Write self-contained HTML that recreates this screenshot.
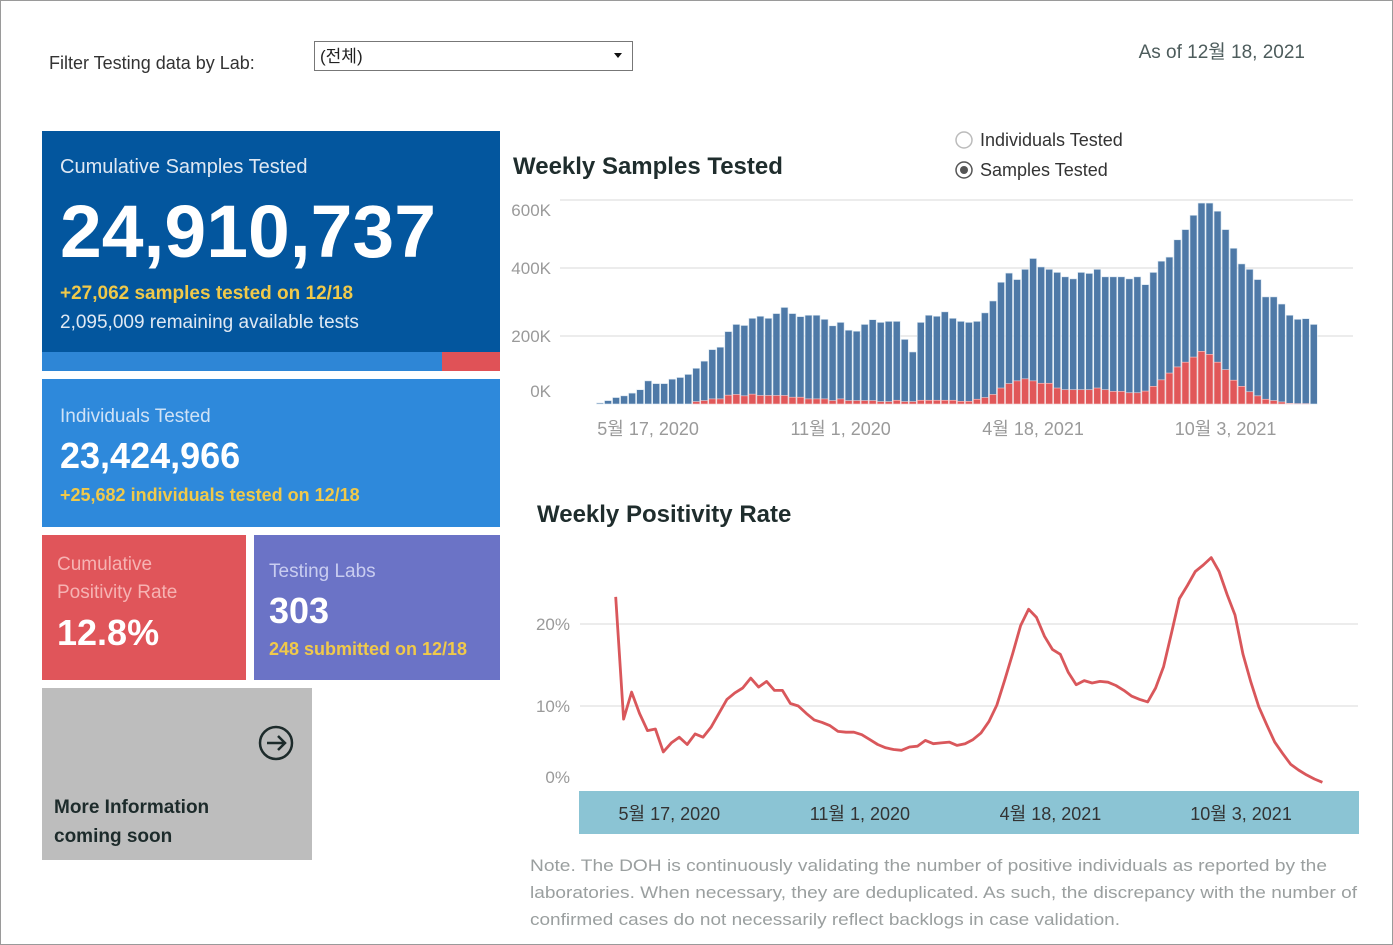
<!DOCTYPE html>
<html><head><meta charset="utf-8">
<style>
html,body{margin:0;padding:0;background:#fff;}
body{width:1393px;height:945px;overflow:hidden;position:relative;font-family:"Liberation Sans","Noto Sans CJK KR",sans-serif;}
#frame{position:absolute;left:0;top:0;width:1391px;height:943px;border:1px solid #9a9a9a;}
svg{position:absolute;left:0;top:0;}
text{font-family:"Liberation Sans","Noto Sans CJK KR",sans-serif;}
</style></head>
<body>
<div id="frame"></div>
<svg id="main" width="1393" height="945" viewBox="0 0 1393 945">
  <!-- header -->
  <text x="49" y="69" font-size="18" fill="#333">Filter Testing data by Lab:</text>
  <g>
    <rect x="314.5" y="41.5" width="318" height="29" fill="#fff" stroke="#777"/>
    <text x="320" y="62" font-size="17" fill="#222">(전체)</text>
    <path d="M614 53 L622 53 L618 58 Z" fill="#111"/>
  </g>
  <text x="1305" y="58" font-size="19" fill="#4d5c5c" text-anchor="end">As of 12월 18, 2021</text>

  <!-- KPI: cumulative samples -->
  <g>
    <rect x="42" y="131" width="458" height="221" fill="#03569e"/>
    <text x="60" y="173" font-size="20" fill="#dfe8f3">Cumulative Samples Tested</text>
    <text x="60" y="257" font-size="74" font-weight="bold" fill="#fff" textLength="376" lengthAdjust="spacingAndGlyphs">24,910,737</text>
    <text x="60" y="299" font-size="19" font-weight="bold" fill="#f0c94a">+27,062 samples tested on 12/18</text>
    <text x="60" y="328" font-size="19" fill="#dfe8f3">2,095,009 remaining available tests</text>
  </g>
  <g>
    <rect x="42" y="352" width="400" height="19" fill="#2e86d6"/>
    <rect x="442" y="352" width="58" height="19" fill="#e05257"/>
  </g>
  <g>
    <rect x="42" y="379" width="458" height="148" fill="#2e89db"/>
    <text x="60" y="422" font-size="19" fill="#cfe2f6">Individuals Tested</text>
    <text x="60" y="468" font-size="36" font-weight="bold" fill="#fff">23,424,966</text>
    <text x="60" y="501" font-size="18" font-weight="bold" fill="#f0c94a">+25,682  individuals  tested on 12/18</text>
  </g>
  <g>
    <rect x="42" y="535" width="204" height="145" fill="#e0555a"/>
    <text x="57" y="570" font-size="19" fill="#f6b3b3">Cumulative</text>
    <text x="57" y="598" font-size="19" fill="#f6b3b3">Positivity Rate</text>
    <text x="57" y="645" font-size="36" font-weight="bold" fill="#fff">12.8%</text>
  </g>
  <g>
    <rect x="254" y="535" width="246" height="145" fill="#6b73c6"/>
    <text x="269" y="577" font-size="19" fill="#c9cdf0">Testing Labs</text>
    <text x="269" y="623" font-size="36" font-weight="bold" fill="#fff">303</text>
    <text x="269" y="655" font-size="18" font-weight="bold" fill="#f0c94a">248 submitted on 12/18</text>
  </g>
  <g>
    <rect x="42" y="688" width="270" height="172" fill="#bdbdbd"/>
    <circle cx="276" cy="743" r="16" fill="none" stroke="#1d2b2b" stroke-width="2.5"/>
    <path d="M267 743 L284 743 M278 736 L285 743 L278 750" fill="none" stroke="#1d2b2b" stroke-width="2.5"/>
    <text x="54" y="813" font-size="19" font-weight="bold" fill="#1d2b2b">More Information</text>
    <text x="54" y="842" font-size="19" font-weight="bold" fill="#1d2b2b">coming soon</text>
  </g>

  <!-- bar chart -->
  <text x="513" y="174" font-size="24" font-weight="bold" fill="#1f2d2d">Weekly Samples Tested</text>
  <g>
    <circle cx="964" cy="140" r="8" fill="#fff" stroke="#bbb" stroke-width="1.5"/>
    <text x="980" y="146" font-size="18" fill="#333">Individuals Tested</text>
  </g>
  <g>
    <circle cx="964" cy="170" r="8" fill="#fff" stroke="#555" stroke-width="1.5"/>
    <circle cx="964" cy="170" r="4" fill="#555"/>
    <text x="980" y="176" font-size="18" fill="#333">Samples Tested</text>
  </g>
  <g id="barGrid"></g>
  <g id="bars"></g>
  <g id="barX"></g>

  <!-- line chart -->
  <text x="537" y="522" font-size="24" font-weight="bold" fill="#1f2d2d">Weekly Positivity Rate</text>
  <g id="lineGrid"></g>
  <rect x="579" y="791" width="780" height="43" fill="#8bc4d4"/>
  <g id="lineX"></g>
  <g id="lineG"></g>

  <g font-size="17" fill="#9a9f9f">
    <text x="530" y="871" textLength="797" lengthAdjust="spacingAndGlyphs">Note. The DOH is continuously validating the number of positive individuals as reported by the</text>
    <text x="530" y="898" textLength="827" lengthAdjust="spacingAndGlyphs">laboratories. When necessary, they are deduplicated. As such, the discrepancy with the number of</text>
    <text x="530" y="925" textLength="590" lengthAdjust="spacingAndGlyphs">confirmed cases do not necessarily reflect backlogs in case validation.</text>
  </g>
</svg>
<script>
const samplesK = [3,10,19,24,32,42,68,60,60,73,78,87,105,126,160,167,213,234,231,252,258,252,266,284,266,257,261,261,249,230,240,217,214,234,248,240,243,243,190,153,240,261,258,271,252,243,240,243,268,303,358,385,366,396,428,403,396,387,374,368,387,384,396,374,374,374,368,374,351,387,420,432,483,513,555,591,591,567,513,458,412,396,366,315,315,294,261,249,251,234];
const positivesK = [0,0,0,0,0,0,0,0,0,0,0,0,7,10,15,15,26,28,24,29,25,25,25,25,20,20,15,15,15,10,15,10,10,10,10,7,7,11,7,7,11,11,11,11,11,8,8,14,19,28,47,60,68,74,68,61,61,47,42,42,42,42,47,42,37,37,33,33,38,52,71,91,109,123,138,155,146,123,101,70,52,36,24,14,10,6,2,1,1,0];
const barTicks = [0,200,400,600];
const barTickLabels = ["0K","200K","400K","600K"];
const dateLabels = ["5월 17, 2020","11월 1, 2020","4월 18, 2021","10월 3, 2021"];
const dateIdx = [6,30,54,78];
const positivity = [23.3,8.4,11.7,9.1,7.0,7.2,4.4,5.5,6.2,5.3,6.6,6.2,7.4,9.1,10.8,11.6,12.2,13.4,12.3,13.0,11.9,11.9,10.3,10.0,9.1,8.3,8.0,7.6,6.9,6.8,6.8,6.5,5.9,5.3,4.9,4.7,4.6,5.0,5.1,5.8,5.4,5.5,5.6,5.2,5.4,5.9,6.7,8.1,10.1,13.2,16.4,19.8,21.8,20.8,18.5,16.9,16.3,14.1,12.6,13.1,12.8,13.0,12.9,12.5,11.9,11.2,10.8,10.5,12.2,14.8,18.9,23.1,24.7,26.4,27.2,28.1,26.4,23.6,21.1,16.3,12.9,9.9,7.7,5.6,4.2,2.9,2.2,1.6,1.1,0.7];
const pctTicks = [0,10,20];
const pctTickLabels = ["0%","10%","20%"];

const NS="http://www.w3.org/2000/svg";
function mk(tag,attrs,parent){const e=document.createElementNS(NS,tag);for(const k in attrs)e.setAttribute(k,attrs[k]);parent.appendChild(e);return e;}

// bar chart axes
const bx = i => 600 + i*8.02;
const by = v => 404 - v*0.34;
const gB=document.getElementById('barGrid');
barTicks.forEach((t,k)=>{
  if(t>0){const l=mk('line',{x1:560,x2:1353,y1:by(t),y2:by(t),stroke:'#e6e6e6','stroke-width':1.5},gB);
  
  }
  const ty = t===0 ? 397 : by(t)+(t===600?16:6);
  const tx=mk('text',{x:551,y:ty,'font-size':17,fill:'#9a9a9a','text-anchor':'end'},gB);
  tx.textContent=barTickLabels[k];
  
  
});
const gBars=document.getElementById('bars');
samplesK.forEach((v,i)=>{
  const r=mk('rect',{x:bx(i)-3.5,y:by(v),width:7,height:v*0.34,fill:'#4e79a7',stroke:'#dce8f2','stroke-width':0.6},gBars);
  
  
  const p=positivesK[i];
  if(p>0){const rr=mk('rect',{x:bx(i)-3.5,y:by(p),width:7,height:p*0.34,fill:'#e15759',stroke:'#f5d0d0','stroke-width':0.6},gBars);
  
  }
});
const gBX=document.getElementById('barX');
dateLabels.forEach((d,k)=>{
  const t=mk('text',{x:bx(dateIdx[k]),y:435,'font-size':18,fill:'#9a9a9a','text-anchor':'middle'},gBX);
  t.textContent=d;
  
  
});

// line chart
const lx = i => 615.7 + i*7.94;
const ly = v => 788 - v*8.2;
const gL=document.getElementById('lineGrid');
pctTicks.forEach((t,k)=>{
  if(t>0){const l=mk('line',{x1:580,x2:1358,y1:ly(t),y2:ly(t),stroke:'#e6e6e6','stroke-width':1.5},gL);
  
  }
  const tx=mk('text',{x:570,y:t===0?783:ly(t)+6,'font-size':17,fill:'#9a9a9a','text-anchor':'end'},gL);
  tx.textContent=pctTickLabels[k];
  
  
});
const gLX=document.getElementById('lineX');
dateLabels.forEach((d,k)=>{
  const t=mk('text',{x:lx(dateIdx[k])+6,y:820,'font-size':18,fill:'#333','text-anchor':'middle'},gLX);
  t.textContent=d;
  
  
});
const pts=positivity.map((v,i)=>lx(i).toFixed(1)+','+ly(v).toFixed(1)).join(' ');
const pl=mk('polyline',{points:pts,fill:'none',stroke:'#d9575b','stroke-width':2.8,'stroke-linejoin':'round'},document.getElementById('lineG'));


</script>
</body></html>
